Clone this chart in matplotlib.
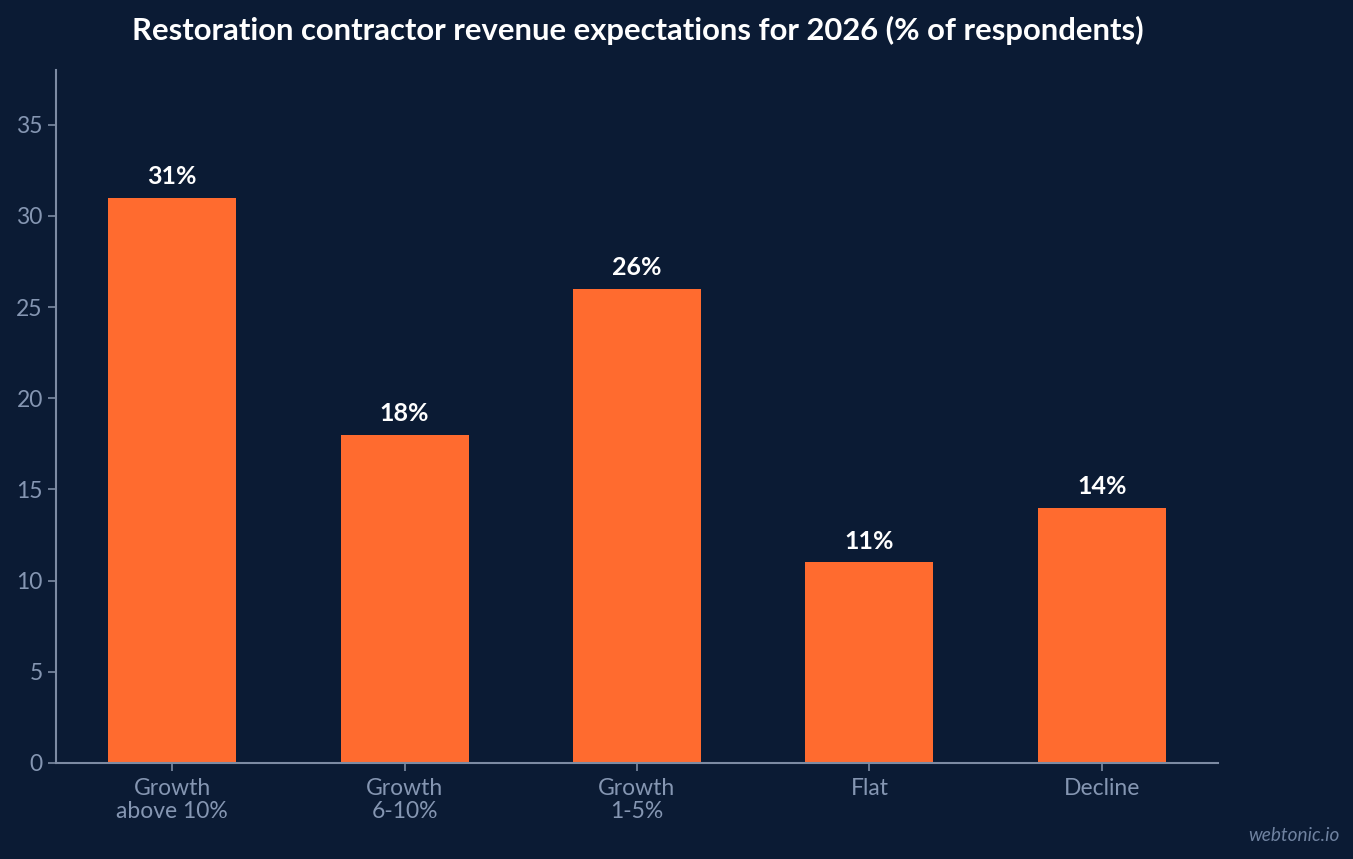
import matplotlib
matplotlib.use("Agg")
import matplotlib.pyplot as plt

# data
categories = ["Growth\nabove 10%", "Growth\n6-10%", "Growth\n1-5%", "Flat", "Decline"]
values = [31, 18, 26, 11, 14]

bg = "#0b1b34"
bar_color = "#ff6b2f"
axis_color = "#7d8ba3"
tick_text = "#8596b2"

plt.rcParams["font.family"] = ["Lato", "DejaVu Sans"]

fig = plt.figure(figsize=(13.53, 8.59), dpi=100, facecolor=bg)
ax = fig.add_axes([0.0414, 0.1118, 0.8588, 0.8067])
ax.set_facecolor(bg)

x = range(len(categories))
ax.bar(x, values, width=0.55, color=bar_color, zorder=2)

for xi, v in zip(x, values):
    ax.annotate(f"{v}%", (xi, v), xytext=(0, 7), textcoords="offset points",
                ha="center", va="bottom", color="white", fontsize=18, fontweight="bold")

ax.set_xlim(-0.5, 4.5)
ax.set_ylim(0, 38)
ax.set_yticks([0, 5, 10, 15, 20, 25, 30, 35])
ax.set_xticks(list(x))
ax.set_xticklabels(categories, linespacing=1.1)

for side in ["top", "right"]:
    ax.spines[side].set_visible(False)
for side in ["left", "bottom"]:
    ax.spines[side].set_color(axis_color)
    ax.spines[side].set_linewidth(1.5)

ax.tick_params(colors=axis_color, labelcolor=tick_text, labelsize=16.5, width=1.2, length=6)
ax.tick_params(axis="x", pad=5)

fig.suptitle("Restoration contractor revenue expectations for 2026 (% of respondents)",
             x=0.4715, y=0.982, color="white", fontsize=22.3, fontweight="bold", va="top")

fig.text(0.99, 0.018, "webtonic.io", ha="right", va="bottom", color="#6f82a0",
         fontsize=13.7, style="italic")

fig.savefig("out.png", dpi=100, facecolor=bg)
